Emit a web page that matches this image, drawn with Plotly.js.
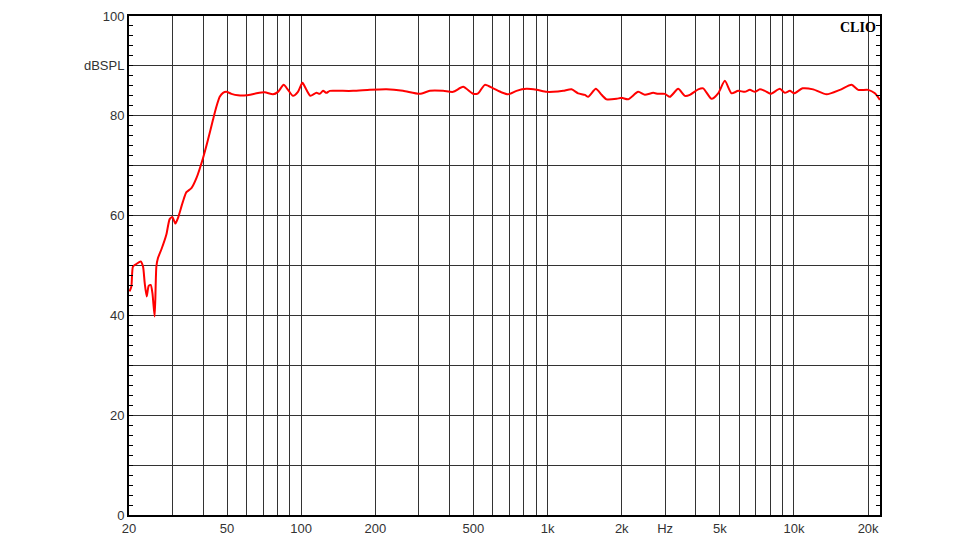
<!DOCTYPE html>
<html>
<head>
<meta charset="utf-8">
<script src="https://cdn.plot.ly/plotly-3.0.1.min.js"></script>
<style>
  html, body { margin: 0; padding: 0; background: #fff; }
  #plot { width: 977px; height: 554px; }
</style>
</head>
<body>
<div id="plot"></div>
<script>
// frequency response (Hz, dBSPL)
const freq = [
  20.1, 20.45, 20.76, 21.43, 22.31, 22.8, 23.16, 23.6, 24.04, 24.5, 24.89, 25.42,
  25.83, 26.22, 27.06, 28.36, 29.25, 30.0, 30.86, 31.6, 33.1, 34.2, 35.84, 37.55,
  39.93, 41.84, 43.84, 45.26, 46.69, 48.15, 49.7, 52.08, 55.42, 59.94, 65.82, 71.12,
  76.85, 80.5, 84.9, 88.4, 92.6, 97.0, 101.2, 105.0, 109.0, 115.3, 118.9, 122.7,
  126.6, 130.6, 143.4, 162.4, 189.9, 222, 259, 303, 332.6, 376.7, 413.6, 454.2,
  498.6, 522.4, 556.3, 601.3, 650.2, 691.6, 748, 821.5, 902.2, 990.6, 1053, 1157,
  1251, 1330, 1417, 1461, 1570, 1656, 1735, 1906, 1996, 2123, 2332, 2482,
  2683, 2811, 2993, 3136, 3389, 3609, 3780, 4086, 4281, 4630, 4925, 5243,
  5582, 5937, 6321, 6623, 6940, 7272, 7620, 8038, 8768, 9188, 9627, 10024,
  10839, 11970, 13570, 15370, 17140, 18230, 20020, 21310, 22330
];
const spl = [
  44.8, 45.8, 49.8, 50.3, 50.8, 49.8, 46.5, 43.8, 45.9, 46.1, 44.5, 39.8,
  49.8, 51.5, 53.2, 56.2, 59.3, 59.7, 58.4, 59.5, 62.8, 64.7, 65.5, 67.5,
  71.5, 75.2, 79.2, 81.8, 83.8, 84.6, 84.8, 84.4, 84.1, 84.1, 84.5, 84.7,
  84.3, 84.8, 86.2, 85.2, 84.0, 84.8, 86.6, 85.2, 84.0, 84.6, 84.4, 85.0,
  84.6, 85.0, 85.0, 85.0, 85.2, 85.3, 85.0, 84.4, 85.0, 85.0, 84.8, 85.8,
  84.4, 84.5, 86.2, 85.5, 84.7, 84.3, 85.0, 85.4, 85.2, 84.8, 84.8, 85.0,
  85.3, 84.5, 84.2, 83.8, 85.4, 84.2, 83.3, 83.4, 83.6, 83.3, 84.8, 84.2,
  84.6, 84.4, 84.4, 83.8, 85.4, 84.0, 84.2, 85.3, 85.5, 83.4, 84.5, 87.0,
  84.5, 85.0, 84.8, 85.2, 84.8, 85.3, 85.0, 84.4, 85.4, 84.6, 85.0, 84.5,
  85.5, 85.3, 84.3, 85.2, 86.2, 85.2, 85.2, 84.5, 83.2
];

// x gridlines at every 1..9 multiple, only some labelled
const gridFreqs = [
  30, 40, 50, 60, 70, 80, 90, 100, 200, 300, 400, 500, 600, 700, 800, 900,
  1000, 2000, 3000, 4000, 5000, 6000, 7000, 8000, 9000, 10000, 20000
];
const xLabels = {20: '20', 50: '50', 100: '100', 200: '200', 500: '500', 1000: '1k',
  2000: '2k', 3000: 'Hz', 5000: '5k', 10000: '10k', 20000: '20k'};

const yVals = [0, 10, 20, 30, 40, 50, 60, 70, 80, 90, 100];
const yLabels = ['0', '', '20', '', '40', '', '60', '', '80', 'dBSPL', '100'];

const xTickVals = [20].concat(gridFreqs);
const xTickText = xTickVals.map(f => xLabels[f] || '');

const tickFont = {family: 'Liberation Sans, Arial, sans-serif', size: 13, color: '#333'};

const traces = [{
  x: freq,
  y: spl,
  type: 'scatter',
  mode: 'lines',
  line: {color: '#ff0000', width: 2, shape: 'spline', smoothing: 0.6},
  hoverinfo: 'x+y'
}];

const layout = {
  width: 977,
  height: 554,
  paper_bgcolor: '#fff',
  plot_bgcolor: '#fff',
  showlegend: false,
  margin: {t: 16, b: 39, l: 129, r: 97, pad: 0},
  xaxis: {
    type: 'log',
    range: [Math.log10(20), Math.log10(22350)],
    tickmode: 'array',
    tickvals: xTickVals,
    ticktext: xTickText,
    ticks: '',
    showgrid: true,
    gridcolor: '#333',
    gridwidth: 1,
    showline: true,
    linecolor: '#000',
    linewidth: 2,
    mirror: true,
    zeroline: false,
    tickfont: tickFont
  },
  yaxis: {
    range: [0, 100],
    tickmode: 'array',
    tickvals: yVals,
    ticktext: yLabels,
    ticks: 'inside',
    ticklen: 4,
    tickcolor: '#000',
    minor: {dtick: 2, tick0: 0, ticks: 'inside', ticklen: 4, tickcolor: '#000', showgrid: false},
    showgrid: true,
    gridcolor: '#333',
    gridwidth: 1,
    showline: true,
    linecolor: '#000',
    linewidth: 2,
    mirror: 'ticks',
    zeroline: false,
    tickfont: tickFont
  },
  annotations: [{
    text: '<b>CLIO</b>',
    xref: 'paper', yref: 'paper',
    x: 0.997, y: 0.995,
    xanchor: 'right', yanchor: 'top',
    showarrow: false,
    font: {family: 'Liberation Serif, Times New Roman, serif', size: 14, color: '#000'}
  }]
};

Plotly.newPlot('plot', traces, layout, {displayModeBar: false, staticPlot: true});
</script>
</body>
</html>
